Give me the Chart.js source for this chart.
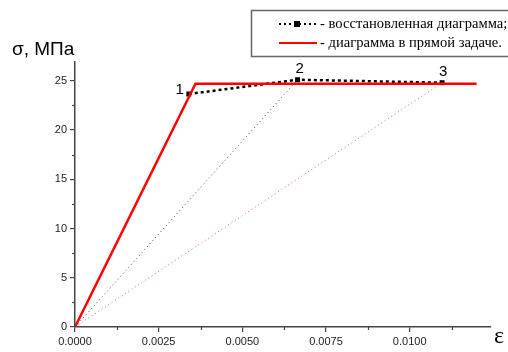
<!DOCTYPE html>
<html><head><meta charset="utf-8">
<script src="https://cdn.jsdelivr.net/npm/chart.js@4"></script>
<style>html,body{margin:0;padding:0;background:#fff}#w{width:508px;height:352px}</style>
</head><body><div id="w"><canvas id="c" width="508" height="352"></canvas></div>
<script>
// Direct-problem diagram (red solid)
const directStrain = [0, 0.0036, 0.0120];
const directStress = [0, 24.7, 24.7];
// Restored diagram (black dashed with markers)
const restoredStrain = [0.0034, 0.00665, 0.01097];
const restoredStress = [23.65, 25.1, 24.8];
const pointLabels = ['1', '2', '3'];
// Secant lines from origin
const secant2Strain = [0, 0.00665];
const secant2Stress = [0, 25.1];
const secant3Strain = [0, 0.01097];
const secant3Stress = [0, 24.8];
// Axes
const xTickStep = 0.0025, yTickStep = 5;
const xMax = 0.01243, yMax = 26.9;
const legendLabels = ['- восстановленная диаграмма;', '- диаграмма в прямой задаче.'];
const yTitle = 'σ, МПа', xTitle = 'ε';

const pts = (xs, ys) => xs.map((x, i) => ({x, y: ys[i]}));

const deco = {
  id: 'deco',
  afterDraw(chart) {
    const ctx = chart.ctx, xs = chart.scales.x, ys = chart.scales.y, ca = chart.chartArea;
    ctx.save();
    // minor ticks
    ctx.strokeStyle = '#444'; ctx.lineWidth = 1.2;
    for (let v = yTickStep / 2; v < yMax; v += yTickStep) {
      const y = Math.round(ys.getPixelForValue(v)) + 0.5;
      ctx.beginPath(); ctx.moveTo(ca.left - 3, y); ctx.lineTo(ca.left, y); ctx.stroke();
    }
    for (let v = xTickStep / 2; v < xMax; v += xTickStep) {
      const x = Math.round(xs.getPixelForValue(v)) + 0.5;
      ctx.beginPath(); ctx.moveTo(x, ca.bottom); ctx.lineTo(x, ca.bottom + 3); ctx.stroke();
    }
    // point labels
    ctx.fillStyle = '#000'; ctx.font = '15px "Liberation Sans", Arial, sans-serif';
    ctx.textAlign = 'center'; ctx.textBaseline = 'middle';
    const offs = [[-9, -4], [2, -11], [1, -11]];
    restoredStrain.forEach((e, i) => {
      ctx.fillText(pointLabels[i], xs.getPixelForValue(e) + offs[i][0], ys.getPixelForValue(restoredStress[i]) + offs[i][1]);
    });
    // axis titles
    ctx.textAlign = 'left'; ctx.textBaseline = 'alphabetic';
    ctx.font = '19px "Liberation Sans", Arial, sans-serif';
    ctx.fillText(yTitle, 12, 55);
    ctx.font = '24px "Liberation Serif", serif';
    ctx.fillText(xTitle, 494, 343);
    // legend box
    ctx.strokeStyle = '#666'; ctx.lineWidth = 1.5;
    ctx.strokeRect(251.5, 10.5, 270, 46);
    // row 1
    ctx.strokeStyle = '#000'; ctx.lineWidth = 2; ctx.setLineDash([2, 3]);
    ctx.beginPath(); ctx.moveTo(279, 24); ctx.lineTo(317, 24); ctx.stroke();
    ctx.setLineDash([]);
    ctx.fillRect(294, 21, 6, 6);
    ctx.strokeStyle = '#f00'; ctx.lineWidth = 2;
    ctx.beginPath(); ctx.moveTo(279, 43); ctx.lineTo(317, 43); ctx.stroke();
    ctx.fillStyle = '#000'; ctx.font = '14.6px "Liberation Serif", "Times New Roman", serif';
    ctx.textBaseline = 'middle';
    ctx.fillText(legendLabels[0], 320, 24);
    ctx.fillText(legendLabels[1], 320, 43);
    ctx.restore();
  }
};

new Chart(document.getElementById('c'), {
  type: 'line',
  data: {
    datasets: [
      {data: pts(secant2Strain, secant2Stress), borderColor: '#444', borderWidth: 1, borderDash: [1, 3], pointRadius: 0, fill: false},
      {data: pts(secant3Strain, secant3Stress), borderColor: '#ff5555', borderWidth: 1, borderDash: [1, 3], pointRadius: 0, fill: false},
      {data: pts(directStrain, directStress), borderColor: '#ff0000', borderWidth: 2.5, pointRadius: 0, fill: false},
      {data: pts(restoredStrain, restoredStress), borderColor: '#000', borderWidth: 2.5, borderDash: [3, 3], pointStyle: 'rect', pointRadius: 3.5, pointBackgroundColor: '#000', pointBorderColor: '#000', pointBorderWidth: 0, fill: false}
    ]
  },
  options: {
    responsive: false, animation: false, events: [],
    layout: {padding: {top: 62, right: 17, left: 0, bottom: 0}},
    plugins: {legend: {display: false}, tooltip: {enabled: false}},
    scales: {
      x: {
        type: 'linear', min: 0, max: xMax,
        afterFit: s => { s.height = 25; },
        ticks: {stepSize: xTickStep, includeBounds: false, padding: 3, color: '#222', maxRotation: 0,
          font: {family: '"Liberation Sans", Arial, sans-serif', size: 11},
          callback: v => Number(v).toFixed(4)},
        grid: {drawOnChartArea: false, drawTicks: true, tickLength: 5, color: '#444', lineWidth: 1.2},
        border: {display: true, color: '#444', width: 1.5}
      },
      y: {
        type: 'linear', min: 0, max: yMax,
        afterFit: s => { s.width = 75; },
        ticks: {stepSize: yTickStep, includeBounds: false, padding: 3, color: '#222',
          font: {family: '"Liberation Sans", Arial, sans-serif', size: 11},
          callback: v => String(Math.round(v))},
        grid: {drawOnChartArea: false, drawTicks: true, tickLength: 5, color: '#444', lineWidth: 1.2},
        border: {display: true, color: '#444', width: 1.5}
      }
    }
  },
  plugins: [deco]
});
</script>
</body></html>
